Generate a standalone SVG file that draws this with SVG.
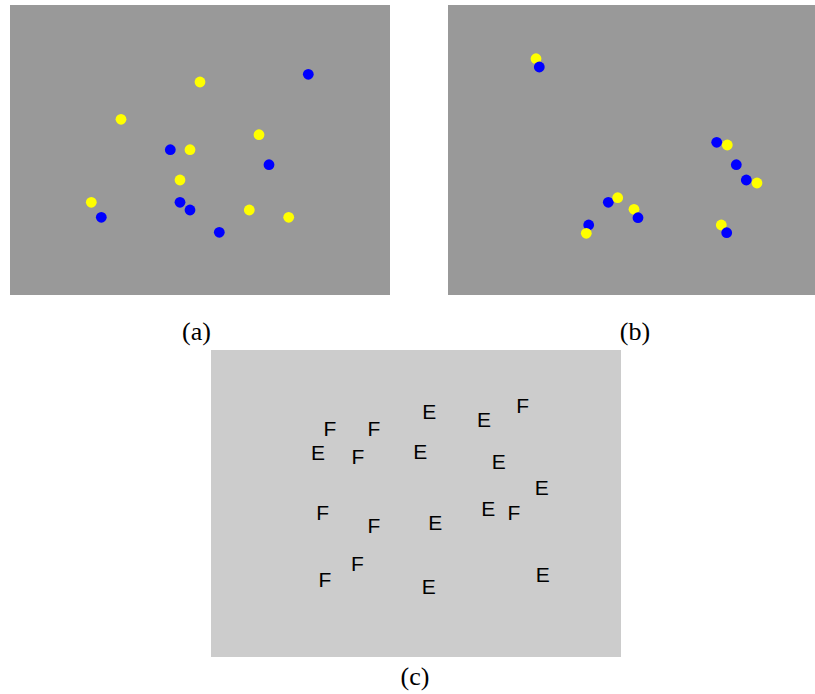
<svg xmlns="http://www.w3.org/2000/svg" width="815" height="694" viewBox="0 0 815 694">
<style>
.bg{fill:#999999}
.bgc{fill:#cccccc}
.y{fill:#ffff00}
.b{fill:#0000ff}
.lt{font-family:"Liberation Sans",Arial,sans-serif;font-size:21px;fill:#000000;text-anchor:middle}
.cap{font-family:"Liberation Serif","Times New Roman",serif;font-size:26px;fill:#000000;text-anchor:middle}
</style>
<rect width="815" height="694" fill="#ffffff"/>
<g id="panel-a">
<rect class="bg" x="10" y="5" width="380" height="290"/>
<g id="a-dots">
<circle class="y" cx="200" cy="82" r="5.4"/>
<circle class="b" cx="308.3" cy="74.3" r="5.4"/>
<circle class="y" cx="121" cy="119.3" r="5.4"/>
<circle class="y" cx="259" cy="134.7" r="5.4"/>
<circle class="b" cx="170.3" cy="149.7" r="5.4"/>
<circle class="y" cx="190" cy="149.7" r="5.4"/>
<circle class="b" cx="269" cy="164.7" r="5.4"/>
<circle class="y" cx="180" cy="180" r="5.4"/>
<circle class="y" cx="91.3" cy="202.3" r="5.4"/>
<circle class="b" cx="180" cy="202.3" r="5.4"/>
<circle class="b" cx="190" cy="210" r="5.4"/>
<circle class="b" cx="101.3" cy="217.3" r="5.4"/>
<circle class="y" cx="249.3" cy="210" r="5.4"/>
<circle class="y" cx="288.7" cy="217.3" r="5.4"/>
<circle class="b" cx="219.3" cy="232.3" r="5.4"/>
</g>
<text class="cap" x="196.5" y="340">(a)</text>
</g>
<g id="panel-b">
<rect class="bg" x="448" y="5" width="367" height="290"/>
<g id="b-dots">
<circle class="y" cx="536" cy="58.7" r="5.4"/>
<circle class="b" cx="539.3" cy="67" r="5.4"/>
<circle class="b" cx="716.7" cy="142.3" r="5.4"/>
<circle class="y" cx="727.3" cy="145" r="5.4"/>
<circle class="b" cx="736.3" cy="164.7" r="5.4"/>
<circle class="b" cx="746.3" cy="180" r="5.4"/>
<circle class="y" cx="757" cy="183" r="5.4"/>
<circle class="b" cx="608.3" cy="202.3" r="5.4"/>
<circle class="y" cx="617.7" cy="197.7" r="5.4"/>
<circle class="y" cx="634" cy="209.3" r="5.4"/>
<circle class="b" cx="638" cy="217.7" r="5.4"/>
<circle class="b" cx="588.7" cy="225" r="5.4"/>
<circle class="y" cx="586.3" cy="233.3" r="5.4"/>
<circle class="y" cx="721.3" cy="225" r="5.4"/>
<circle class="b" cx="726.7" cy="232.7" r="5.4"/>
</g>
<text class="cap" x="635" y="340">(b)</text>
</g>
<g id="panel-c">
<rect class="bgc" x="211" y="350" width="410" height="307"/>
<g id="c-letters">
<text class="lt" x="330" y="436">F</text>
<text class="lt" x="374" y="436">F</text>
<text class="lt" x="429.3" y="418.5">E</text>
<text class="lt" x="484" y="426.5">E</text>
<text class="lt" x="522.7" y="413">F</text>
<text class="lt" x="318" y="460">E</text>
<text class="lt" x="358" y="464">F</text>
<text class="lt" x="420.3" y="459">E</text>
<text class="lt" x="498.7" y="468.5">E</text>
<text class="lt" x="541.7" y="495">E</text>
<text class="lt" x="322.7" y="520">F</text>
<text class="lt" x="374" y="532.5">F</text>
<text class="lt" x="435.3" y="530">E</text>
<text class="lt" x="488.3" y="516">E</text>
<text class="lt" x="514" y="520">F</text>
<text class="lt" x="357.3" y="571">F</text>
<text class="lt" x="325" y="587">F</text>
<text class="lt" x="428.7" y="594">E</text>
<text class="lt" x="542.7" y="582">E</text>
</g>
<text class="cap" x="415" y="685">(c)</text>
</g>
</svg>
